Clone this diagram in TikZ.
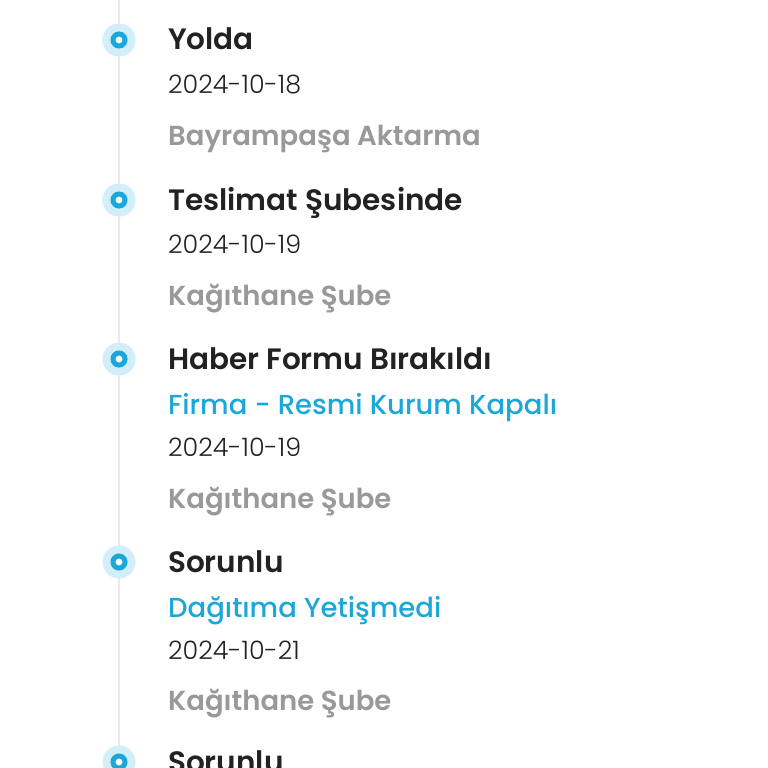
\documentclass[tikz,border=0pt]{standalone}
\usepackage{fontspec}
\setmainfont{Poppins}
\newfontfamily\semibold{Poppins SemiBold}
\newfontfamily\medium{Poppins Medium}
\newfontfamily\light{Poppins Light}
\definecolor{ink}{HTML}{222222}
\definecolor{ringblue}{HTML}{1BA8D8}
\definecolor{haloblue}{HTML}{D2EEF8}
\definecolor{locgray}{HTML}{999999}
\definecolor{railgray}{HTML}{E8EAEE}
\tikzset{
  ttl/.style={anchor=base west,inner sep=0,text=ink,font=\semibold\fontsize{29.5}{31}\selectfont},
  note/.style={anchor=base west,inner sep=0,text=ringblue,font=\medium\fontsize{27.5}{29}\selectfont},
  day/.style={anchor=base west,inner sep=0,text=ink,font=\light\fontsize{25.4}{27}\selectfont},
  place/.style={anchor=base west,inner sep=0,text=locgray,font=\semibold\fontsize{27.5}{29}\selectfont},
  halo/.style={circle,fill=haloblue,minimum size=33pt,inner sep=0},
  ring/.style={circle,draw=ringblue,line width=5pt,fill=white,minimum size=12pt,inner sep=0}
}
\begin{document}
\begin{tikzpicture}[x=1pt,y=-1pt]
\useasboundingbox[fill=white] (0,0) rectangle (768,768);
\coordinate (top) at (119,0);
\coordinate (bot) at (119,768);
\draw[railgray,line width=1.5pt] (top) -- (bot);
\foreach \y [count=\i] in {40,200,359,562,762} {
  \node[halo] (h\i) at (119,\y) {};
  \node[ring] (d\i) at (h\i) {};
}
\node[ttl] (t1) at (168,50) {Yolda};
\node[day] (a1) at (168,93) {2024-10-18};
\node[place] (p1) at (168,145) {Bayrampaşa Aktarma};
\node[ttl] (t2) at (168,210) {Teslimat Şubesinde};
\node[day] (a2) at (168,253) {2024-10-19};
\node[place] (p2) at (168,305) {Kağıthane Şube};
\node[ttl] (t3) at (168,369) {Haber Formu Bırakıldı};
\node[note] (n3) at (168,414) {Firma - Resmi Kurum Kapalı};
\node[day] (a3) at (168,456) {2024-10-19};
\node[place] (p3) at (168,508) {Kağıthane Şube};
\node[ttl] (t4) at (168,572) {Sorunlu};
\node[note] (n4) at (168,617) {Dağıtıma Yetişmedi};
\node[day] (a4) at (168,659) {2024-10-21};
\node[place] (p4) at (168,710) {Kağıthane Şube};
\node[ttl] (t5) at (168,772) {Sorunlu};
\end{tikzpicture}
\end{document}
